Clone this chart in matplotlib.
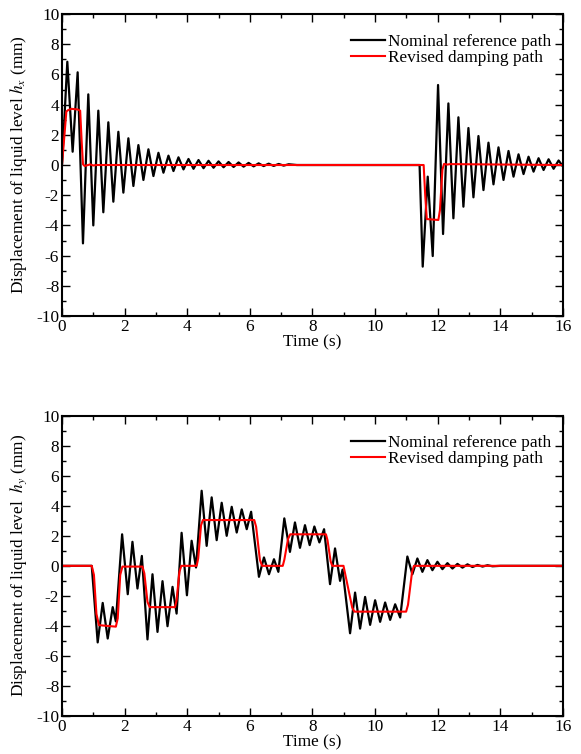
import matplotlib
matplotlib.use('Agg')
import matplotlib.pyplot as plt
from matplotlib.ticker import MultipleLocator

plt.rcParams['font.family'] = ['Liberation Serif', 'DejaVu Serif']
plt.rcParams['mathtext.fontset'] = 'stix'
plt.rcParams['font.size'] = 12.4
plt.rcParams['axes.unicode_minus'] = False

# hx: turning points of the black curve (time s, level mm)
hx_nom_t = [0.00, 0.17, 0.34, 0.50, 0.67, 0.84, 1.00, 1.16, 1.32, 1.48, 1.64, 1.80,
            1.96, 2.12, 2.28, 2.44, 2.60, 2.76, 2.92, 3.08, 3.24, 3.40, 3.56, 3.72,
            3.88, 4.04, 4.20, 4.36, 4.52, 4.68, 4.84, 5.00, 5.16, 5.32, 5.48, 5.64,
            5.80, 5.96, 6.12, 6.28, 6.44, 6.60, 6.76, 6.92, 7.08, 7.24, 7.50,
            11.42, 11.52, 11.68, 11.84, 12.01, 12.17, 12.34, 12.50, 12.66, 12.82,
            12.98, 13.14, 13.30, 13.46, 13.62, 13.78, 13.94, 14.10, 14.26, 14.42,
            14.58, 14.74, 14.90, 15.06, 15.22, 15.38, 15.54, 15.70, 15.86, 16.00]
hx_nom = [0.0, 6.84, 0.88, 6.14, -5.19, 4.68, -4.00, 3.60, -3.13, 2.83, -2.43, 2.20,
          -1.83, 1.77, -1.39, 1.32, -0.99, 1.04, -0.73, 0.81, -0.51, 0.62, -0.40, 0.51,
          -0.29, 0.40, -0.25, 0.33, -0.21, 0.28, -0.18, 0.24, -0.15, 0.20, -0.13, 0.17,
          -0.11, 0.14, -0.09, 0.11, -0.07, 0.09, -0.06, 0.07, -0.04, 0.05, 0.0,
          0.0, -6.73, -0.77, -6.03, 5.30, -4.57, 4.08, -3.53, 3.16, -2.76,
          2.45, -2.14, 1.92, -1.66, 1.48, -1.28, 1.17, -0.99, 0.93, -0.77,
          0.71, -0.60, 0.55, -0.44, 0.45, -0.33, 0.38, -0.25, 0.30, -0.10]

hx_rev_t = [0.00, 0.14, 0.20, 0.30, 0.50, 0.58, 0.63, 0.67, 0.72, 0.80, 0.90, 1.00, 1.10,
            11.55, 11.60, 11.65, 12.02, 12.07, 12.15, 12.20, 12.30, 12.40, 16.00]
hx_rev = [0.0, 3.55, 3.64, 3.72, 3.68, 3.60, 1.50, 0.05, -0.06, -0.02, 0.04, -0.03, 0.0,
          0.0, -2.0, -3.58, -3.64, -3.0, -0.3, 0.07, 0.03, 0.06, 0.0]

# hy
hy_nom_t = [0.00, 0.95, 1.14, 1.30, 1.46, 1.62, 1.72, 1.92, 2.10, 2.25, 2.41, 2.55,
            2.73, 2.89, 3.05, 3.21, 3.37, 3.53, 3.66, 3.82, 3.99, 4.14, 4.28, 4.46,
            4.62, 4.78, 4.94, 5.10, 5.26, 5.42, 5.58, 5.74, 5.90, 6.04, 6.29, 6.45,
            6.61, 6.77, 6.91, 7.10, 7.28, 7.44, 7.60, 7.76, 7.91, 8.06, 8.22, 8.37,
            8.56, 8.72, 8.88, 8.96, 9.20, 9.36, 9.52, 9.68, 9.84, 10.00, 10.16, 10.32,
            10.48, 10.64, 10.80, 11.03, 11.19, 11.35, 11.51, 11.67, 11.83, 11.99,
            12.15, 12.31, 12.47, 12.63, 12.79, 12.95, 13.11, 13.27, 13.43, 13.59,
            13.75, 14.00, 16.00]
hy_nom = [0.0, 0.0, -5.10, -2.47, -4.84, -2.75, -3.70, 2.10, -1.89, 1.60, -1.51, 0.66,
          -4.90, -0.56, -4.40, -1.02, -4.02, -1.40, -3.18, 2.20, -1.96, 1.67, -0.11, 5.00,
          1.33, 4.56, 1.71, 4.20, 2.00, 3.93, 2.22, 3.76, 2.44, 3.60, -0.73, 0.56,
          -0.56, 0.44, -0.40, 3.16, 0.93, 2.89, 1.20, 2.71, 1.38, 2.62, 1.56, 2.44,
          -1.22, 1.16, -1.00, -0.25, -4.49, -1.78, -4.18, -2.07, -3.93, -2.29, -3.73, -2.44,
          -3.60, -2.56, -3.44, 0.62, -0.56, 0.49, -0.40, 0.38, -0.29, 0.27,
          -0.22, 0.18, -0.18, 0.13, -0.12, 0.10, -0.08, 0.06, -0.05, 0.04,
          -0.03, 0.0, 0.0]

hy_rev_t = [0.00, 0.95, 1.02, 1.10, 1.18, 1.72, 1.78, 1.86, 1.93, 2.57, 2.63, 2.73, 2.80,
            3.61, 3.66, 3.75, 3.81, 4.30, 4.35, 4.44, 4.50, 6.14, 6.20, 6.32, 6.39,
            7.05, 7.10, 7.22, 7.29, 8.43, 8.48, 8.58, 8.63, 8.99, 9.04, 9.27, 9.34,
            10.99, 11.05, 11.18, 11.24, 16.00]
hy_rev = [0.0, 0.0, -0.6, -3.2, -3.95, -4.05, -3.5, -0.6, -0.05, -0.05, -0.5, -2.4, -2.75,
          -2.75, -2.3, -0.4, 0.0, 0.0, 0.5, 2.7, 3.05, 3.05, 2.6, 0.4, 0.0,
          0.0, 0.4, 1.8, 2.1, 2.1, 1.7, 0.3, 0.0, 0.0, -0.5, -2.8, -3.05,
          -3.05, -2.6, -0.4, 0.0, 0.0]

labels = ['Nominal reference path', 'Revised damping path']

fig = plt.figure(figsize=(5.81, 7.54), dpi=100)
ax1 = fig.add_axes([0.1067, 0.5809, 0.8623, 0.4005])
ax2 = fig.add_axes([0.1067, 0.0504, 0.8623, 0.3983])

panels = [(ax1, hx_nom_t, hx_nom, hx_rev_t, hx_rev, 'Displacement of liquid level $h_x$ (mm)'),
          (ax2, hy_nom_t, hy_nom, hy_rev_t, hy_rev, 'Displacement of liquid level  $h_y$ (mm)')]

for ax, tn, yn, tr, yr, ylab in panels:
    ax.plot(tn, yn, color='black', linewidth=1.6, solid_joinstyle='round', label=labels[0])
    ax.plot(tr, yr, color='red', linewidth=1.5, solid_joinstyle='round', label=labels[1])
    ax.set_xlim(0, 16)
    ax.set_ylim(-10, 10)
    ax.xaxis.set_major_locator(MultipleLocator(2))
    ax.xaxis.set_minor_locator(MultipleLocator(1))
    ax.yaxis.set_major_locator(MultipleLocator(2))
    ax.yaxis.set_minor_locator(MultipleLocator(1))
    ax.tick_params(which='both', direction='in', top=True, right=True, width=1.0)
    ax.tick_params(which='major', length=6, pad=2)
    ax.tick_params(which='minor', length=3)
    for s in ax.spines.values():
        s.set_linewidth(1.5)
    ax.set_xlabel('Time (s)', labelpad=0)
    ax.set_ylabel(ylab, labelpad=5)
    ax.legend(loc='upper right', frameon=False, bbox_to_anchor=(1.0, 0.975),
              handlelength=2.0, handletextpad=0.15, labelspacing=0.0, borderaxespad=0.3)

fig.savefig('out.png', dpi=100)
